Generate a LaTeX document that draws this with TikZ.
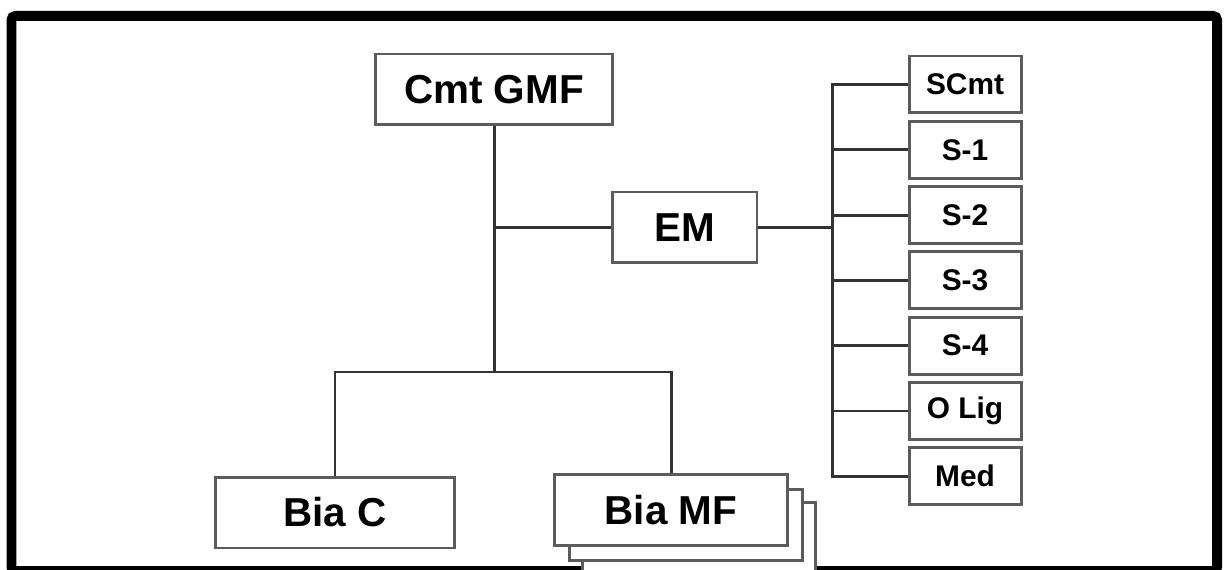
\documentclass[tikz,border=0pt]{standalone}
\usepackage{fontspec}
\setmainfont{Liberation Sans}
\usepackage{xcolor}
\usepackage{tikz}
\usetikzlibrary{positioning}

\definecolor{boxline}{gray}{0.36}
\definecolor{linkline}{gray}{0.2}

\begin{document}
\begin{tikzpicture}[x=0.02cm, y=-0.02cm,
    bigbox/.style={draw=boxline, fill=white, line width=1.7pt, minimum height=1.42cm,
      inner sep=0pt, font=\fontsize{23}{26}\selectfont\bfseries},
    subbox/.style={draw=boxline, fill=white, line width=1.7pt, minimum width=2.24cm,
      minimum height=1.14cm, inner sep=0pt, font=\fontsize{17}{20}\selectfont\bfseries},
    link/.style={draw=linkline, line width=1.7pt}]
  \useasboundingbox (0,0) rectangle (1229,570);

  % Frame
  \draw[line width=0.2cm, rounded corners=0.08cm] (11.5,16) rectangle (1217,571);

  % Top and middle boxes
  \node[bigbox, minimum width=4.76cm] (cmt) at (494,89.5) {Cmt GMF};
  \node[bigbox, minimum width=2.9cm] (em) at (684.5,227.5) {EM};

  % Bottom boxes (Bia MF is a stack)
  \node[bigbox, minimum width=4.8cm] (biac) at (335,512.5) {Bia C};
  \node[bigbox, minimum width=4.68cm] (mfback) at (699,538) {};
  \node[bigbox, minimum width=4.68cm] (mfmid) at (686,525) {};
  \node[bigbox, minimum width=4.68cm] (biamf) at (671,510) {Bia MF};

  % Staff column
  \foreach \n/\t [count=\i from 0] in {scmt/SCmt, s1/S-1, s2/S-2, s3/S-3, s4/S-4, olig/O Lig, med/Med}
    \node[subbox] (\n) at (965, {84.5+65.3*\i}) {\t};

  % Connectors
  \coordinate (split) at (494,372);
  \coordinate (bus) at (832,227.5);
  \draw[link] (cmt.south) -- (split);
  \draw[link] (biac.north) |- (split) -| (biamf.north);
  \draw[link] (cmt.south |- em.west) -- (em.west);
  \draw[link] (em.east) -- (bus);
  \draw[link] (scmt.west) -- (scmt.west -| bus) -- (med.west -| bus) -- (med.west);
  \foreach \n in {s1, s2, s3, s4, olig}
    \draw[link] (\n.west) -- (\n.west -| bus);
\end{tikzpicture}
\end{document}
